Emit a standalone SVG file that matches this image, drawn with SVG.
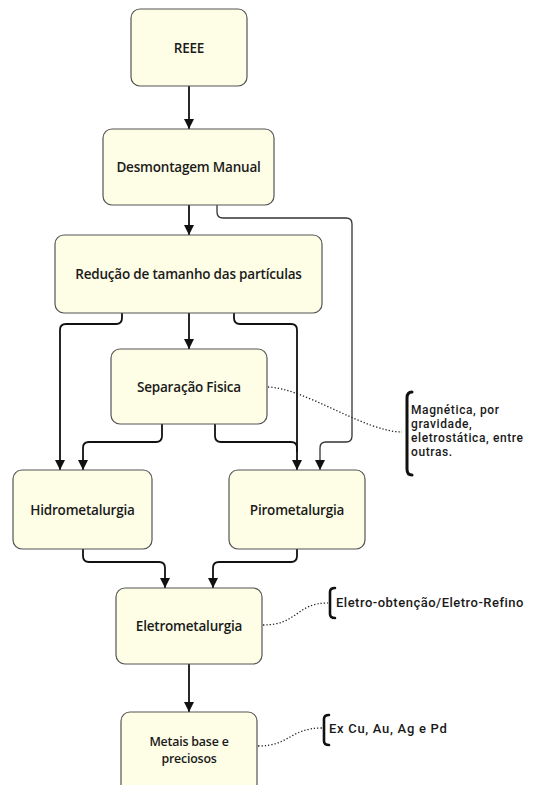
<svg xmlns="http://www.w3.org/2000/svg" width="533" height="785" viewBox="0 0 533 785">
<style>
.box{fill:#fefde6;stroke:#555;stroke-width:1.2}
.t{font-family:"Open Sans","Liberation Sans",sans-serif;font-size:13.5px;fill:#1a1a1a;text-anchor:middle;dominant-baseline:central;font-weight:600;letter-spacing:-0.2px}
.a{font-family:Roboto,"Liberation Sans",sans-serif;font-size:12px;fill:#1a1a1a;dominant-baseline:central;font-weight:500;letter-spacing:0.6px}
.c{fill:none;stroke:#111;stroke-width:1.8}
.thin{fill:none;stroke:#333;stroke-width:1.3}
.dot{fill:none;stroke:#222;stroke-width:1.3;stroke-dasharray:1.3 2}
.br{fill:none;stroke:#111;stroke-width:3;stroke-linecap:round}
</style>
<defs>
<marker id="ah" markerUnits="userSpaceOnUse" markerWidth="11" markerHeight="11" refX="10" refY="5" orient="auto">
<path d="M0,0 L10,5 L0,10 z" fill="#111"/>
</marker>
</defs>
<rect width="533" height="785" fill="#fff"/>
<g id="connectors">
<path class="c" d="M189,86 L189,129" marker-end="url(#ah)"/>
<path class="c" d="M189,205 L189,235" marker-end="url(#ah)"/>
<path class="thin" d="M217,205 L217,212 Q217,218 223,218 L346,218 Q352,218 352,224 L352,436 Q352,442 346,442 L326,442 Q320,442 320,448 L320,470" marker-end="url(#ah)"/>
<path class="c" d="M189,313 L189,349" marker-end="url(#ah)"/>
<path class="c" d="M122,313 L122,318 Q122,324 116,324 L66,324 Q60,324 60,330 L60,470" marker-end="url(#ah)"/>
<path class="c" d="M234,313 L234,318 Q234,324 240,324 L291,324 Q297,324 297,330 L297,470" marker-end="url(#ah)"/>
<path class="c" d="M162,424 L162,436 Q162,442 156,442 L89,442 Q83,442 83,448 L83,470" marker-end="url(#ah)"/>
<path class="c" d="M215,424 L215,436 Q215,442 221,442 L291,442 Q297,442 297,448 L297,452"/>
<path class="c" d="M83,549 L83,556 Q83,562 89,562 L159,562 Q165,562 165,568 L165,588" marker-end="url(#ah)"/>
<path class="c" d="M297,549 L297,556 Q297,562 291,562 L219,562 Q213,562 213,568 L213,588" marker-end="url(#ah)"/>
<path class="c" d="M189,664 L189,712" marker-end="url(#ah)"/>
<path class="dot" d="M268,387 C305,388 365,432 402,432"/>
<path class="dot" d="M263,625 C298,625 296,603 328,603"/>
<path class="dot" d="M258,746 C290,746 290,728 322,728"/>
</g>
<g id="reee"><rect class="box" x="131" y="9" width="116" height="77" rx="9"/><text class="t" x="189" y="48">REEE</text></g>
<g id="desmontagem"><rect class="box" x="103" y="129" width="171" height="76" rx="9"/><text class="t" x="188.5" y="167">Desmontagem Manual</text></g>
<g id="reducao"><rect class="box" x="55" y="235" width="267" height="78" rx="9"/><text class="t" x="188.5" y="274">Redução de tamanho das partículas</text></g>
<g id="separacao"><rect class="box" x="111" y="349" width="156" height="75" rx="9"/><text class="t" x="189" y="387">Separação Fisica</text></g>
<g id="hidro"><rect class="box" x="13" y="470" width="139" height="79" rx="9"/><text class="t" x="82.5" y="510">Hidrometalurgia</text></g>
<g id="piro"><rect class="box" x="229" y="470" width="136" height="79" rx="9"/><text class="t" x="297" y="510">Pirometalurgia</text></g>
<g id="eletro"><rect class="box" x="116" y="588" width="146" height="76" rx="9"/><text class="t" x="189" y="626">Eletrometalurgia</text></g>
<g id="metais"><rect class="box" x="121" y="712" width="136" height="82" rx="9"/><text class="t" x="189" y="741.5" style="font-size:12.4px">Metais base e</text><text class="t" x="189" y="758.5" style="font-size:12.4px">preciosos</text></g>
<g id="note-separacao">
<path class="br" d="M412,392 Q407,392 407,398 L407,469 Q407,475 412,475"/>
<text class="a" x="411" y="409.5">Magnética, por</text>
<text class="a" x="411" y="423.5">gravidade,</text>
<text class="a" x="411" y="437.5">eletrostática, entre</text>
<text class="a" x="411" y="451.5">outras.</text>
</g>
<g id="note-eletro">
<path class="br" style="stroke-width:2.6" d="M335,588 Q330,588 330,592 L330,614 Q330,618 335,618"/>
<text class="a" x="336" y="602" style="font-size:13px;letter-spacing:0.5px">Eletro-obtenção/Eletro-Refino</text>
</g>
<g id="note-metais">
<path class="br" style="stroke-width:2.6" d="M329,715 Q324,715 324,719 L324,741 Q324,745 329,745"/>
<text class="a" x="329" y="728" style="font-size:13px;letter-spacing:0.7px">Ex Cu, Au, Ag e Pd</text>
</g>
</svg>
